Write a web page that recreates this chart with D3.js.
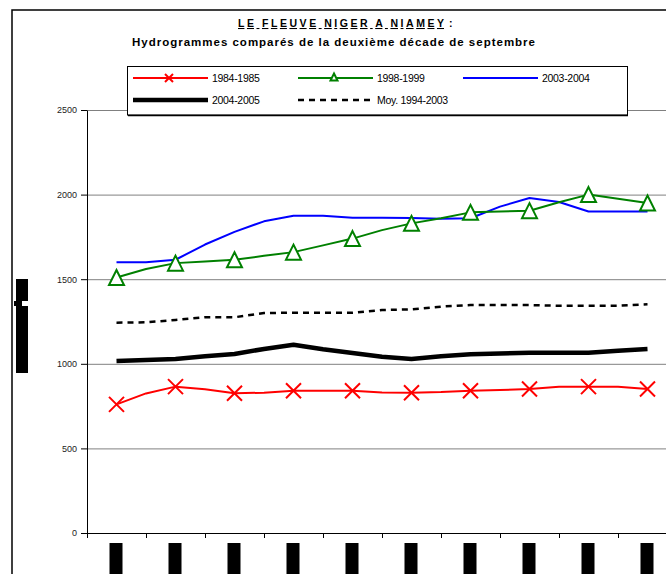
<!DOCTYPE html>
<html>
<head>
<meta charset="utf-8">
<script src="https://cdn.jsdelivr.net/npm/d3@7"></script>
<style>
  body { margin: 0; background: #fff; }
  svg { display: block; font-family: "Liberation Sans", Arial, sans-serif; }
</style>
</head>
<body>
<div id="chart"></div>
<script>
// steps: half-day readings over the 2nd decade of September (markers on full days)
const steps = [0, 0.5, 1, 1.5, 2, 2.5, 3, 3.5, 4, 4.5, 5, 5.5, 6, 6.5, 7, 7.5, 8, 8.5, 9];
const days = [0, 1, 2, 3, 4, 5, 6, 7, 8, 9];
const yTicks = [0, 500, 1000, 1500, 2000, 2500];

const s1984 = [760, 825, 865, 850, 826, 829, 841, 841, 841, 831, 829, 833, 841, 845, 851, 865, 865, 865, 851];
const s1998 = [1510, 1560, 1595, 1605, 1615, 1638, 1660, 1700, 1740, 1790, 1830, 1860, 1895, 1900, 1905, 1955, 2000, 1975, 1950];
const s2003 = [1600, 1600, 1615, 1705, 1780, 1842, 1875, 1875, 1863, 1863, 1862, 1858, 1860, 1929, 1980, 1956, 1900, 1900, 1900];
const s2004 = [1017, 1022, 1029, 1044, 1058, 1088, 1113, 1086, 1064, 1042, 1028, 1044, 1057, 1061, 1066, 1066, 1066, 1077, 1087];
const sMoy  = [1243, 1245, 1259, 1275, 1275, 1300, 1302, 1302, 1302, 1318, 1322, 1338, 1347, 1347, 1347, 1343, 1343, 1343, 1352];

const W = 666, H = 574;
const svg = d3.select("#chart").append("svg")
    .attr("width", W)
    .attr("height", H);

// chart frame (right and bottom are cut off)
svg.append("path")
    .attr("d", `M12,${H} L12,10 L${W},10`)
    .attr("fill", "none")
    .attr("stroke", "#000")
    .attr("stroke-width", 1.5);

// scales
const x = d3.scaleLinear().domain([-0.5, 9.5]).range([87, 677]);
const y = d3.scaleLinear().domain([0, 2500]).range([533, 110]);

// gridlines
svg.append("g")
    .attr("transform", "translate(87,0)")
    .call(d3.axisLeft(y).tickValues(yTicks.slice(1)).tickSize(-(W - 87)).tickFormat(""))
    .call(g => g.select(".domain").remove())
    .selectAll("line")
      .attr("stroke", "#808080");

// y axis
const yAxis = svg.append("g")
    .attr("transform", "translate(87,0)")
    .call(d3.axisLeft(y).tickValues(yTicks).tickSize(6).tickPadding(4).tickSizeOuter(0).tickFormat(d3.format("d")));
yAxis.select(".domain").attr("stroke", "#000");
yAxis.selectAll("text")
    .attr("font-size", 9)
    .attr("font-family", "Liberation Sans, Arial, sans-serif")
    .attr("fill", "#222");

// x axis
const xAxis = svg.append("g")
    .attr("transform", "translate(0,533)")
    .call(d3.axisBottom(x).tickValues(d3.range(-0.5, 10, 1)).tickSize(5).tickFormat("").tickSizeOuter(0));
xAxis.select(".domain").attr("d", `M83,0.5H${W}`).attr("stroke", "#000");

// x tick labels (unreadable, rendered as solid blocks)
svg.append("g").selectAll("rect")
    .data(days)
    .enter()
    .append("rect")
      .attr("x", d => x(d) - 7)
      .attr("y", 543)
      .attr("width", 13)
      .attr("height", 40)
      .attr("fill", "#000");

// y axis title block
svg.append("rect").attr("x", 16).attr("y", 279).attr("width", 12).attr("height", 94).attr("fill", "#000");
svg.append("rect").attr("x", 22).attr("y", 301).attr("width", 6).attr("height", 5).attr("fill", "#fff");
svg.append("rect").attr("x", 14).attr("y", 301).attr("width", 3).attr("height", 5).attr("fill", "#000");

// lines
const line = d3.line().x((d, i) => x(steps[i])).y(d => y(d));

const series = [
  {name: "Moy. 1994-2003", data: sMoy, color: "#000", width: 2.5, dash: "6,5"},
  {name: "2004-2005", data: s2004, color: "#000", width: 4.5, dash: null},
  {name: "2003-2004", data: s2003, color: "#0000ff", width: 2, dash: null},
  {name: "1998-1999", data: s1998, color: "#008000", width: 2, dash: null},
  {name: "1984-1985", data: s1984, color: "#ff0000", width: 2, dash: null}
];

series.forEach(s => {
  svg.append("path")
      .datum(s.data)
      .attr("d", line)
      .attr("fill", "none")
      .attr("stroke", s.color)
      .attr("stroke-width", s.width)
      .attr("stroke-dasharray", s.dash)
      .attr("stroke-linejoin", "round");
});

// markers: on full days only
const crossPath = r => `M${-r},${-r}L${r},${r}M${-r},${r}L${r},${-r}`;
const triPath = r => `M0,${-r}L${r},${r}L${-r},${r}Z`;

svg.append("g").selectAll("path")
    .data(s1998.filter((d, i) => i % 2 === 0))
    .enter()
    .append("path")
      .attr("transform", (d, i) => `translate(${x(days[i])},${y(d)})`)
      .attr("d", triPath(7.5))
      .attr("fill", "#fff")
      .attr("stroke", "#008000")
      .attr("stroke-width", 2);

svg.append("g").selectAll("path")
    .data(s1984.filter((d, i) => i % 2 === 0))
    .enter()
    .append("path")
      .attr("transform", (d, i) => `translate(${x(days[i])},${y(d)})`)
      .attr("d", crossPath(7.5))
      .attr("fill", "none")
      .attr("stroke", "#ff0000")
      .attr("stroke-width", 2);

// legend
const lg = svg.append("g");
lg.append("rect")
    .attr("x", 127.5).attr("y", 66.5)
    .attr("width", 500).attr("height", 48.5)
    .attr("fill", "#fff")
    .attr("stroke", "#000")
    .attr("stroke-width", 1);
lg.append("line")
    .attr("x1", 128).attr("x2", 628).attr("y1", 115.5).attr("y2", 115.5)
    .attr("stroke", "#000").attr("stroke-width", 1.5);

const legendItems = [
  {s: series[4], x: 133, y: 78, marker: "cross"},
  {s: series[3], x: 298, y: 78, marker: "tri"},
  {s: series[2], x: 463, y: 78, marker: null},
  {s: series[1], x: 133, y: 100, marker: null},
  {s: series[0], x: 298, y: 100, marker: null}
];

legendItems.forEach(it => {
  lg.append("line")
      .attr("x1", it.x).attr("x2", it.x + 75)
      .attr("y1", it.y).attr("y2", it.y)
      .attr("stroke", it.s.color)
      .attr("stroke-width", it.s.width)
      .attr("stroke-dasharray", it.s.dash);
  if (it.marker == "cross") {
    lg.append("path")
        .attr("transform", `translate(${it.x + 36},${it.y})`)
        .attr("d", crossPath(4))
        .attr("stroke", it.s.color).attr("stroke-width", 2);
  }
  if (it.marker == "tri") {
    lg.append("path")
        .attr("transform", `translate(${it.x + 36},${it.y - 1})`)
        .attr("d", triPath(3.5))
        .attr("fill", "#fff")
        .attr("stroke", it.s.color).attr("stroke-width", 2);
  }
  lg.append("text")
      .attr("x", it.x + 79)
      .attr("y", it.y + 4)
      .attr("font-size", 10.5)
      .attr("letter-spacing", -0.3)
      .text(it.s.name);
});

// titles
svg.append("text")
    .attr("x", 238).attr("y", 27)
    .attr("font-size", 10.5)
    .attr("font-weight", "bold")
    .attr("textLength", 206)
    .attr("lengthAdjust", "spacing")
    .style("text-decoration", "underline")
    .text("LE FLEUVE NIGER A NIAMEY");
svg.append("text")
    .attr("x", 449).attr("y", 27)
    .attr("font-size", 10.5)
    .attr("font-weight", "bold")
    .text(":");
svg.append("text")
    .attr("x", 132).attr("y", 46)
    .attr("font-size", 11.5)
    .attr("font-weight", "bold")
    .attr("textLength", 403)
    .attr("lengthAdjust", "spacing")
    .text("Hydrogrammes comparés de la deuxième décade de septembre");
</script>
</body>
</html>
